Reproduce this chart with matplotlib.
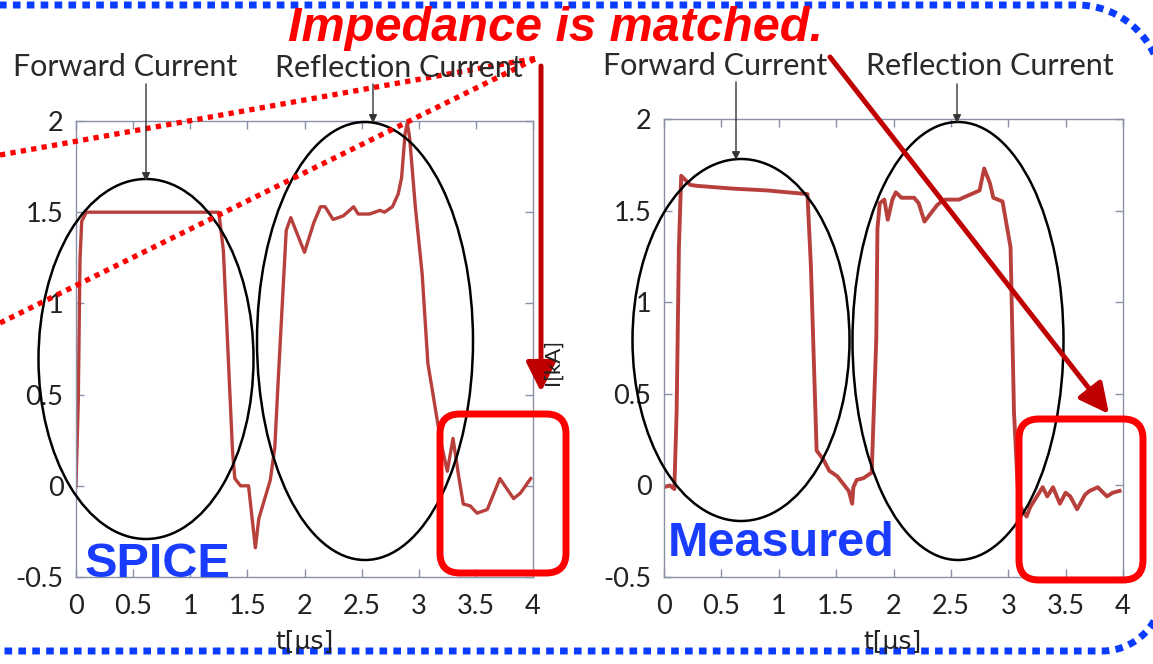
import numpy as np
import matplotlib
matplotlib.use("Agg")
import matplotlib.pyplot as plt
from matplotlib.patches import Ellipse, FancyBboxPatch

# SPICE simulation of the pulse current, t in us, I in kA
spice_t = [0.0, 0.02, 0.035, 0.05, 0.09, 0.5, 1.0, 1.25, 1.29, 1.33, 1.37,
           1.39, 1.44, 1.51, 1.57, 1.6, 1.7, 1.74, 1.77, 1.84, 1.88, 2.0,
           2.08, 2.14, 2.18, 2.25, 2.34, 2.43, 2.47, 2.57, 2.66, 2.7, 2.77,
           2.82, 2.85, 2.88, 2.9, 2.92, 2.97, 3.03, 3.08, 3.12, 3.19, 3.25,
           3.3, 3.35, 3.39, 3.45, 3.51, 3.6, 3.71, 3.83, 3.89, 3.98]
spice_i = [0.0, 0.47, 1.24, 1.45, 1.5, 1.5, 1.5, 1.5, 1.29, 0.74, 0.19,
           0.04, 0.0, 0.0, -0.34, -0.18, 0.03, 0.21, 0.58, 1.4, 1.47, 1.28,
           1.44, 1.53, 1.53, 1.46, 1.48, 1.53, 1.49, 1.49, 1.51, 1.5, 1.53,
           1.6, 1.69, 1.93, 1.99, 1.91, 1.53, 1.16, 0.67, 0.52, 0.25, 0.08,
           0.26, 0.05, -0.1, -0.11, -0.15, -0.13, 0.04, -0.07, -0.04, 0.04]

# Measured current
meas_t = [0.0, 0.05, 0.09, 0.11, 0.13, 0.15, 0.23, 0.29, 0.6, 0.9, 1.25,
          1.28, 1.33, 1.39, 1.44, 1.51, 1.61, 1.64, 1.65, 1.68, 1.74, 1.81,
          1.85, 1.86, 1.88, 1.92, 1.95, 1.99, 2.02, 2.07, 2.18, 2.22, 2.27,
          2.38, 2.42, 2.45, 2.5, 2.57, 2.75, 2.79, 2.84, 2.87, 2.95, 3.02,
          3.05, 3.09, 3.16, 3.19, 3.26, 3.3, 3.34, 3.39, 3.45, 3.5, 3.54,
          3.6, 3.67, 3.71, 3.78, 3.86, 3.91, 3.97]
meas_i = [-0.01, 0.0, -0.02, 0.4, 1.3, 1.69, 1.64, 1.635, 1.62, 1.61, 1.59,
          1.2, 0.19, 0.14, 0.08, 0.05, -0.03, -0.1, -0.01, 0.03, 0.04, 0.07,
          0.8, 1.4, 1.54, 1.56, 1.45, 1.56, 1.6, 1.57, 1.57, 1.54, 1.44,
          1.53, 1.55, 1.56, 1.56, 1.56, 1.61, 1.73, 1.65, 1.57, 1.55, 1.3,
          0.4, -0.1, -0.17, -0.12, -0.05, -0.01, -0.06, -0.01, -0.1, -0.04,
          -0.06, -0.13, -0.05, -0.03, -0.01, -0.06, -0.04, -0.03]

x_ticks = [0, 0.5, 1, 1.5, 2, 2.5, 3, 3.5, 4]
x_labels = ["0", "0.5", "1", "1.5", "2", "2.5", "3", "3.5", "4"]
y_ticks = [-0.5, 0, 0.5, 1, 1.5, 2]
y_labels = ["-0.5", "0", "0.5", "1", "1.5", "2"]

W, H = 1153, 664
fig = plt.figure(figsize=(W / 100, H / 100), dpi=100)
fig.patch.set_facecolor("white")

spine_col = "#8a90a8"
curve_col = "#b8403c"
tick_font = dict(family="Lato", size=19.5, color="#222222")


def px_axes(x0, y0, x1, y1):
    return fig.add_axes([x0 / W, 1 - y1 / H, (x1 - x0) / W, (y1 - y0) / H])


def style(ax):
    ax.set_xlim(0, 4)
    ax.set_ylim(-0.5, 2)
    ax.set_xticks(x_ticks)
    ax.set_xticklabels(x_labels, fontdict=tick_font)
    ax.set_yticks(y_ticks)
    ax.set_yticklabels(y_labels, fontdict=tick_font)
    ax.tick_params(direction="in", length=6, width=1, color=spine_col,
                   top=True, right=True)
    ax.tick_params(axis="x", pad=12)
    ax.tick_params(axis="y", pad=9)
    for s in ax.spines.values():
        s.set_color(spine_col)
        s.set_linewidth(1.0)


ax1 = px_axes(76, 121, 533, 577)
ax1.plot(spice_t, spice_i, color=curve_col, lw=2.4)
style(ax1)

ax2 = px_axes(664, 119, 1123, 577)
ax2.plot(meas_t, meas_i, color=curve_col, lw=2.8)
style(ax2)

# overlay in pixel coordinates for callouts
ov = fig.add_axes([0, 0, 1, 1], zorder=10)
ov.set_xlim(0, W)
ov.set_ylim(H, 0)
ov.axis("off")
ov.patch.set_alpha(0)

lab_font = dict(family="Lato", size=22, color="#2a2a2a", ha="center", va="baseline")
ov.text(125, 76, "Forward Current", **lab_font)
ov.text(399, 77, "Reflection Current", **lab_font)
ov.text(715, 75, "Forward Current", **lab_font)
ov.text(990, 75, "Reflection Current", **lab_font)

for x, y0, y1 in [(146, 84, 181), (373, 84, 123), (736, 82, 160), (957, 84, 123)]:
    ov.annotate("", xy=(x, y1), xytext=(x, y0),
                arrowprops=dict(arrowstyle="-|>", color="#333333", lw=1,
                                mutation_scale=12, shrinkA=0, shrinkB=0))

for cx, cy, w, h in [(146, 359, 215, 360), (365, 341, 216, 438),
                     (741, 340, 217, 362), (958, 341, 211, 438)]:
    ov.add_patch(Ellipse((cx, cy), w, h, fill=False, ec="black", lw=1.8))

for x0, y0, x1, y1 in [(440, 414, 566, 573), (1019, 419, 1143, 580)]:
    ov.add_patch(FancyBboxPatch((x0, y0), x1 - x0, y1 - y0,
                                boxstyle="round,pad=0,rounding_size=20",
                                fill=False, ec="#ff0000", lw=5))

# dotted guide lines
for ys in [155, 323]:
    ov.plot([0, 537], [ys, 58], color="#ff0000", lw=3.8,
            linestyle=(0, (1, 1.0)), solid_capstyle="butt")

arrow_col = "#c00000"
head = "-|>,head_width=0.45,head_length=0.9"
ov.annotate("", xy=(541, 392), xytext=(541, 66),
            arrowprops=dict(arrowstyle=head, color=arrow_col, lw=3.6,
                            mutation_scale=20, shrinkA=0, shrinkB=0))
ov.annotate("", xy=(1109, 414), xytext=(830, 57),
            arrowprops=dict(arrowstyle=head, color=arrow_col, lw=3.6,
                            mutation_scale=20, shrinkA=0, shrinkB=0))

ov.text(555, 41, "Impedance is matched.", family="Liberation Sans",
        weight="bold", style="italic", size=35, color="#ff0000",
        ha="center", va="baseline")
ov.text(85, 577, "SPICE", family="Liberation Sans", weight="bold", size=35,
        color="#1a3cff", ha="left", va="baseline")
ov.text(668, 556, "Measured", family="Liberation Sans", weight="bold", size=35,
        color="#1a3cff", ha="left", va="baseline")

ov.text(553, 362, "I[kA]", family="Lato", size=16, color="#222222",
        rotation=90, ha="center", va="center")
ov.text(304, 642, "t[μs]", family="DejaVu Sans", size=18, color="#222222",
        ha="center", va="center")
ov.text(892, 642, "t[μs]", family="DejaVu Sans", size=18, color="#222222",
        ha="center", va="center")

# blue dotted frame: open on the left, rounded corners on the right
top, bot, right = 5, 651, 1162
r_top, r_bot = 85, 60
a1 = np.linspace(np.pi / 2, 0, 40)
a2 = np.linspace(0, -np.pi / 2, 40)
fx = np.concatenate([[-40], right - r_top + r_top * np.cos(a1),
                     right - r_bot + r_bot * np.cos(a2), [-40]])
fy = np.concatenate([[top], top + r_top - r_top * np.sin(a1),
                     bot - r_bot - r_bot * np.sin(a2), [bot]])
ov.plot(fx, fy, color="#0a3cff", lw=5, linestyle=(0, (1.1, 0.9)),
        solid_capstyle="butt", clip_on=False)

fig.savefig("out.png", dpi=100)
